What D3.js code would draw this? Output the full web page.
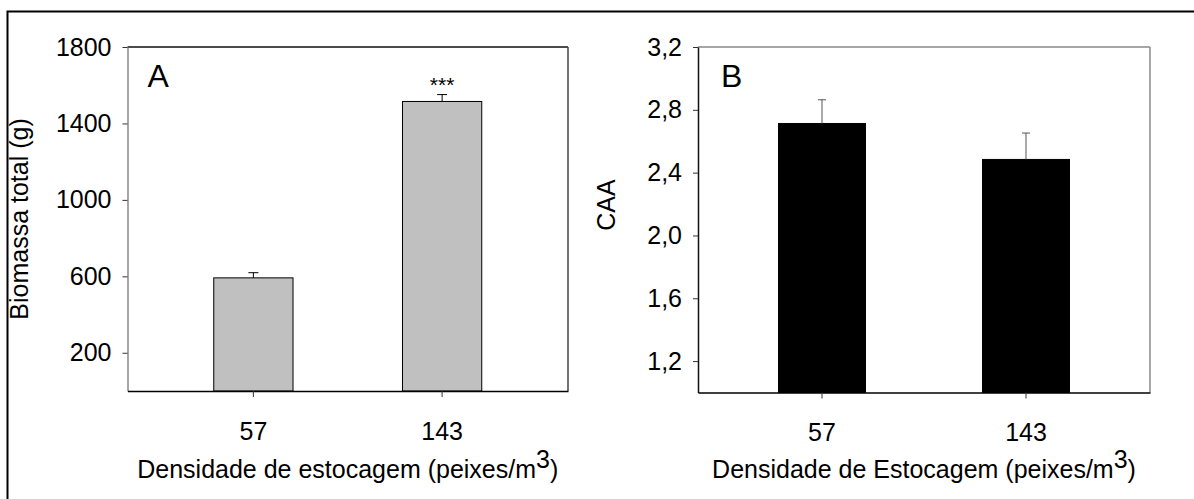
<!DOCTYPE html>
<html>
<head>
<meta charset="utf-8">
<script src="https://cdn.jsdelivr.net/npm/d3@7"></script>
<style>
  body { margin: 0; background: #fff; }
  svg { display: block; font-family: "Liberation Sans", Arial, sans-serif; }
</style>
</head>
<body>
<div id="chart"></div>
<script>
// data
var densidades = ["57", "143"];
var biomassa = [592, 1515];
var biomassaErro = [27, 36];
var caa = [2.713, 2.484];
var caaErro = [0.151, 0.168];
var ticksA = [200, 600, 1000, 1400, 1800];
var ticksB = [1.2, 1.6, 2.0, 2.4, 2.8, 3.2];

var W = 1194, H = 499;
var fs = 25;

var svg = d3.select("#chart")
  .append("svg")
    .attr("width", W)
    .attr("height", H);

// outer frame (right and bottom edges fall outside the picture)
svg.append("rect")
  .attr("x", 7.5).attr("y", 11.5)
  .attr("width", W + 20).attr("height", H + 20)
  .attr("fill", "none")
  .attr("stroke", "#000")
  .attr("stroke-width", 2);

function panel(opt) {
  var x = d3.scaleBand()
    .domain(densidades)
    .range([opt.left, opt.right])
    .paddingInner(opt.pi)
    .paddingOuter(opt.po);

  var y = d3.scaleLinear()
    .domain(opt.domain)
    .range([opt.bottom, opt.top]);

  var g = svg.append("g");

  // bars
  g.selectAll(".bar")
    .data(opt.values)
    .enter()
    .append("rect")
      .attr("x", function(d, i) { return x(densidades[i]); })
      .attr("y", function(d) { return y(d); })
      .attr("width", x.bandwidth())
      .attr("height", function(d) { return opt.bottom - y(d); })
      .attr("fill", opt.fill)
      .attr("stroke", "#000")
      .attr("stroke-width", 1);

  // error bars (upper only)
  var eb = g.selectAll(".err")
    .data(opt.values)
    .enter()
    .append("g");
  eb.append("line")
    .attr("x1", function(d, i) { return x(densidades[i]) + x.bandwidth() / 2; })
    .attr("x2", function(d, i) { return x(densidades[i]) + x.bandwidth() / 2; })
    .attr("y1", function(d) { return y(d); })
    .attr("y2", function(d, i) { return y(d + opt.errors[i]); })
    .attr("stroke", opt.errColor)
    .attr("stroke-width", 1);
  eb.append("line")
    .attr("x1", function(d, i) { return x(densidades[i]) + x.bandwidth() / 2 - opt.cap; })
    .attr("x2", function(d, i) { return x(densidades[i]) + x.bandwidth() / 2 + opt.cap; })
    .attr("y1", function(d, i) { return y(d + opt.errors[i]); })
    .attr("y2", function(d, i) { return y(d + opt.errors[i]); })
    .attr("stroke", opt.errColor)
    .attr("stroke-width", 1);

  // frame
  g.append("line")
    .attr("x1", opt.left).attr("x2", opt.right)
    .attr("y1", opt.top).attr("y2", opt.top)
    .attr("stroke", opt.topColor).attr("stroke-width", 1.5);
  g.append("line")
    .attr("x1", opt.right).attr("x2", opt.right)
    .attr("y1", opt.top).attr("y2", opt.bottom)
    .attr("stroke", opt.rightColor).attr("stroke-width", 1.5);

  // y axis
  var ya = g.append("g")
    .attr("transform", "translate(" + opt.left + ",0)")
    .call(d3.axisLeft(y).tickValues(opt.ticks).tickSize(5).tickSizeOuter(0)
      .tickPadding(11).tickFormat(opt.fmt));
  ya.select(".domain").attr("stroke", opt.leftColor).attr("stroke-width", 1.5);
  ya.selectAll(".tick line").attr("stroke", "#333");
  ya.selectAll("text")
    .attr("font-size", fs)
    .attr("font-family", "Liberation Sans, Arial, sans-serif")
    .attr("fill", "#000");

  // x axis
  var xa = g.append("g")
    .attr("transform", "translate(0," + opt.bottom + ")")
    .call(d3.axisBottom(x).tickSize(6).tickSizeOuter(0).tickPadding(25));
  xa.select(".domain").attr("stroke", "#000").attr("stroke-width", 1.5);
  xa.selectAll(".tick line").attr("stroke", "#333");
  xa.selectAll("text")
    .attr("font-size", fs)
    .attr("font-family", "Liberation Sans, Arial, sans-serif")
    .attr("fill", "#000");

  // panel letter
  g.append("text")
    .attr("x", opt.left + opt.letterDx)
    .attr("y", opt.top + 40)
    .attr("font-size", 32)
    .text(opt.letter);

  // y title
  g.append("text")
    .attr("transform", "translate(" + opt.ytX + "," + opt.ytY + ") rotate(-90)")
    .attr("text-anchor", "middle")
    .attr("font-size", fs)
    .text(opt.ytitle);

  // x title with superscript 3
  var xt = g.append("text")
    .attr("x", (opt.left + opt.right) / 2 + opt.xtDx)
    .attr("y", 478)
    .attr("text-anchor", "middle")
    .attr("font-size", fs);
  xt.append("tspan").text(opt.xtitle);
  xt.append("tspan").attr("dy", -10).text("3");
  xt.append("tspan").attr("dy", 10).text(")");

  return { x: x, y: y, g: g };
}

var pA = panel({
  left: 127.5, right: 568, top: 47, bottom: 391,
  pi: 0.58, po: 0.457,
  domain: [0, 1800], ticks: ticksA, fmt: d3.format("d"),
  values: biomassa, errors: biomassaErro,
  fill: "#c0c0c0", errColor: "#000", cap: 5,
  topColor: "#111", rightColor: "#444", leftColor: "#888",
  letter: "A", letterDx: 20,
  ytitle: "Biomassa total (g)", ytX: 28, ytY: 219,
  xtitle: "Densidade de estocagem (peixes/m", xtDx: 0
});

// significance stars over the second bar
pA.g.append("text")
  .attr("x", pA.x(densidades[1]) + pA.x.bandwidth() / 2)
  .attr("y", pA.y(biomassa[1] + biomassaErro[1]) - 3)
  .attr("text-anchor", "middle")
  .attr("font-size", 21)
  .text("***");

panel({
  left: 698, right: 1150, top: 47, bottom: 392.5,
  pi: 0.5735, po: 0.3946,
  domain: [1.0, 3.2], ticks: ticksB,
  fmt: function(d) { return d3.format(".1f")(d).replace(".", ","); },
  values: caa, errors: caaErro,
  fill: "#000", errColor: "#555", cap: 4,
  topColor: "#888", rightColor: "#888", leftColor: "#111",
  letter: "B", letterDx: 23,
  ytitle: "CAA", ytX: 615, ytY: 205,
  xtitle: "Densidade de Estocagem (peixes/m", xtDx: 0
});
</script>
</body>
</html>
